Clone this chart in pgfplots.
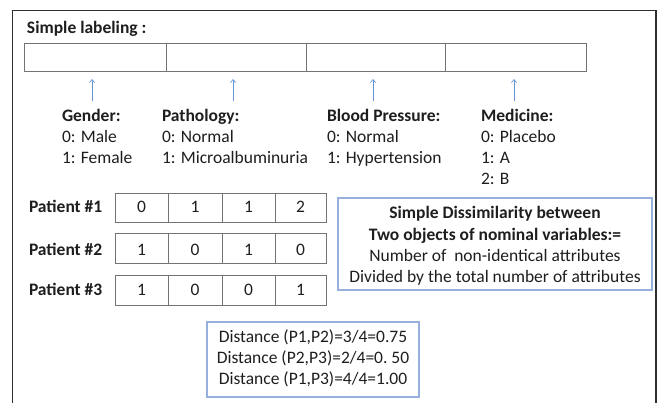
\documentclass[border=0pt]{standalone}
\usepackage{pgfplots}
\pgfplotsset{compat=1.18}
\usepackage{fontspec}
\setmainfont{Carlito}
\usetikzlibrary{arrows.meta}
\definecolor{txt}{RGB}{30,30,30}
\definecolor{framec}{RGB}{45,45,45}
\definecolor{cellc}{RGB}{115,115,115}
\definecolor{boxblue}{RGB}{150,175,220}
\definecolor{arrblue}{RGB}{100,150,210}
\tikzset{
  t/.style={font=\fontsize{17.5}{21}\selectfont, text=txt, inner sep=0pt, outer sep=0pt},
  tb/.style={font=\fontsize{17.5}{21}\selectfont\bfseries, text=txt, inner sep=0pt, outer sep=0pt},
  cell/.style={cellc, line width=0.9pt},
  arr/.style={arrblue, line width=0.7pt, -{Straight Barb[length=3pt,width=5pt]}},
}
\begin{document}
\begin{tikzpicture}
\begin{axis}[
  width=661pt, height=402pt, scale only axis,
  xmin=0, xmax=661, ymin=0, ymax=402, y dir=reverse,
  hide axis, clip=true,
]
% background
\addplot[draw=none, fill=white] coordinates {(0,0)(661,0)(661,402)(0,402)} -- cycle;
% outer frame
\addplot[framec, line width=1.1pt] coordinates {(12.5,410)(12.5,10.5)(656,10.5)(656,410)};
% labeling bar
\addplot[cell] coordinates {(24,43)(586,43)(586,71)(24,71)} -- cycle;
\addplot[cell] coordinates {(166,43)(166,71)};
\addplot[cell] coordinates {(306,43)(306,71)};
\addplot[cell] coordinates {(445,43)(445,71)};
% arrows
\addplot[arr] coordinates {(92,101)(92,79)};
\addplot[arr] coordinates {(233,101)(233,79)};
\addplot[arr] coordinates {(373,101)(373,79)};
\addplot[arr] coordinates {(514,101)(514,79)};
% patient rows
\addplot[cell] coordinates {(115,193)(326,193)(326,222)(115,222)} -- cycle;
\addplot[cell] coordinates {(115,233)(326,233)(326,263)(115,263)} -- cycle;
\addplot[cell] coordinates {(115,275)(326,275)(326,305)(115,305)} -- cycle;
\addplot[cell] coordinates {(168,193)(168,222)};
\addplot[cell] coordinates {(222,193)(222,222)};
\addplot[cell] coordinates {(275,193)(275,222)};
\addplot[cell] coordinates {(168,233)(168,263)};
\addplot[cell] coordinates {(222,233)(222,263)};
\addplot[cell] coordinates {(275,233)(275,263)};
\addplot[cell] coordinates {(168,275)(168,305)};
\addplot[cell] coordinates {(222,275)(222,305)};
\addplot[cell] coordinates {(275,275)(275,305)};
% blue boxes
\addplot[boxblue, line width=1.3pt] coordinates {(338,198)(652,198)(652,290)(338,290)} -- cycle;
\addplot[boxblue, line width=1.3pt] coordinates {(207,322)(419,322)(419,397)(207,397)} -- cycle;

% texts
\node[tb, anchor=base west] at (axis cs:27,33.5) {Simple labeling :};

\node[tb, anchor=base west] at (axis cs:62,121.5) {Gender:};
\node[t, anchor=base west] at (axis cs:62,142.5) {0: Male};
\node[t, anchor=base west] at (axis cs:62,163.5) {1: Female};

\node[tb, anchor=base west] at (axis cs:162,121.5) {Pathology:};
\node[t, anchor=base west] at (axis cs:162,142.5) {0: Normal};
\node[t, anchor=base west] at (axis cs:162,163.5) {1: Microalbuminuria};

\node[tb, anchor=base west] at (axis cs:327,121.5) {Blood Pressure:};
\node[t, anchor=base west] at (axis cs:327,142.5) {0: Normal};
\node[t, anchor=base west] at (axis cs:327,163.5) {1: Hypertension};

\node[tb, anchor=base west] at (axis cs:481,121.5) {Medicine:};
\node[t, anchor=base west] at (axis cs:481,142.5) {0: Placebo};
\node[t, anchor=base west] at (axis cs:481,163.5) {1: A};
\node[t, anchor=base west] at (axis cs:481,184.5) {2: B};

\node[tb, anchor=base west] at (axis cs:29,212.5) {Patient \#1};
\node[tb, anchor=base west] at (axis cs:29,255) {Patient \#2};
\node[tb, anchor=base west] at (axis cs:29,295.5) {Patient \#3};

\node[t, anchor=base] at (axis cs:141.5,212.5) {0};
\node[t, anchor=base] at (axis cs:195,212.5) {1};
\node[t, anchor=base] at (axis cs:248.5,212.5) {1};
\node[t, anchor=base] at (axis cs:300.5,212.5) {2};
\node[t, anchor=base] at (axis cs:141.5,255) {1};
\node[t, anchor=base] at (axis cs:195,255) {0};
\node[t, anchor=base] at (axis cs:248.5,255) {1};
\node[t, anchor=base] at (axis cs:300.5,255) {0};
\node[t, anchor=base] at (axis cs:141.5,295.5) {1};
\node[t, anchor=base] at (axis cs:195,295.5) {0};
\node[t, anchor=base] at (axis cs:248.5,295.5) {0};
\node[t, anchor=base] at (axis cs:300.5,295.5) {1};

\node[tb, anchor=base] at (axis cs:495,218.5) {Simple Dissimilarity between};
\node[tb, anchor=base] at (axis cs:495,240.5) {Two objects of nominal variables:=};
\node[t, anchor=base] at (axis cs:495,261) {Number of\ \ non-identical attributes};
\node[t, anchor=base] at (axis cs:495,282.5) {Divided by the total number of attributes};

\node[t, anchor=base] at (axis cs:313,342) {Distance (P1,P2)=3/4=0.75};
\node[t, anchor=base] at (axis cs:313,363) {Distance (P2,P3)=2/4=0.\ 50};
\node[t, anchor=base] at (axis cs:313,384) {Distance (P1,P3)=4/4=1.00};
\end{axis}
\end{tikzpicture}
\end{document}
